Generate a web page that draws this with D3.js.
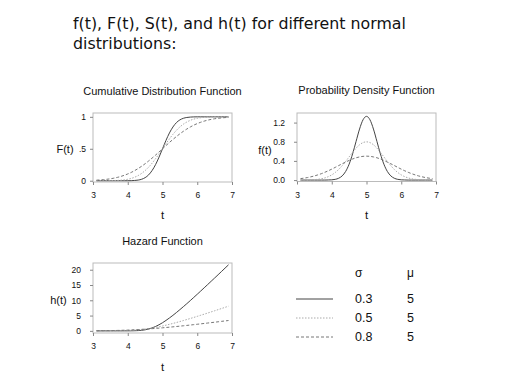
<!DOCTYPE html>
<html lang="en">
<head>
<meta charset="utf-8">
<title>Normal distributions</title>
<script src="https://cdn.jsdelivr.net/npm/d3@7"></script>
<style>
  body {margin: 0; background: white;}
  svg {display: block; background: white;}
  .tick text {font-family: "Liberation Sans", Arial, sans-serif; font-size: 8.5px; fill: #111;}
  .tick line {stroke: #888;}
  .lbl {font-family: "Liberation Sans", Arial, sans-serif; fill: #111;}
</style>
</head>
<body>
<script>
// sample points t = 3.1 .. 6.9 (step 0.1)
var tVals = [3.1,3.2,3.3,3.4,3.5,3.6,3.7,3.8,3.9,4.0,4.1,4.2,4.3,4.4,4.5,4.6,4.7,4.8,4.9,5.0,
             5.1,5.2,5.3,5.4,5.5,5.6,5.7,5.8,5.9,6.0,6.1,6.2,6.3,6.4,6.5,6.6,6.7,6.8,6.9];

var cdf03 = [0,0,0,0,0,0,0,0,0,0,0.001,0.004,0.010,0.023,0.048,0.091,0.159,0.252,0.369,0.5,
             0.631,0.748,0.841,0.909,0.952,0.977,0.990,0.996,0.999,1,1,1,1,1,1,1,1,1,1];
var cdf05 = [0,0,0,0.001,0.001,0.003,0.005,0.008,0.014,0.023,0.036,0.055,0.081,0.115,0.159,0.212,0.274,0.345,0.421,0.5,
             0.579,0.655,0.726,0.788,0.841,0.885,0.919,0.945,0.964,0.977,0.986,0.992,0.995,0.997,0.999,0.999,1,1,1];
var cdf08 = [0.009,0.012,0.017,0.023,0.030,0.040,0.052,0.067,0.085,0.106,0.130,0.159,0.191,0.227,0.266,0.309,0.354,0.401,0.450,0.5,
             0.550,0.599,0.646,0.691,0.734,0.773,0.809,0.841,0.870,0.894,0.915,0.933,0.948,0.960,0.970,0.977,0.983,0.988,0.991];

var pdf03 = [0,0,0,0,0,0,0,0,0.002,0.005,0.015,0.038,0.087,0.180,0.332,0.547,0.807,1.065,1.258,1.330,
             1.258,1.065,0.807,0.547,0.332,0.180,0.087,0.038,0.015,0.005,0.002,0,0,0,0,0,0,0,0];
var pdf05 = [0.001,0.001,0.002,0.005,0.009,0.016,0.027,0.045,0.071,0.108,0.158,0.222,0.300,0.388,0.484,0.579,0.666,0.737,0.782,0.798,
             0.782,0.737,0.666,0.579,0.484,0.388,0.300,0.222,0.158,0.108,0.071,0.045,0.027,0.016,0.009,0.005,0.002,0.001,0.001];
var pdf08 = [0.030,0.040,0.052,0.068,0.086,0.108,0.133,0.162,0.194,0.228,0.265,0.303,0.340,0.376,0.410,0.440,0.465,0.483,0.495,0.499,
             0.495,0.483,0.465,0.440,0.410,0.376,0.340,0.303,0.265,0.228,0.194,0.162,0.133,0.108,0.086,0.068,0.052,0.040,0.030];

var haz03 = [0,0,0,0,0,0,0,0,0.002,0.005,0.015,0.038,0.088,0.184,0.348,0.602,0.959,1.425,1.995,2.66,
             3.41,4.22,5.08,5.99,6.94,7.91,8.89,9.91,10.94,11.98,13.03,14.09,15.15,16.22,17.29,18.36,19.44,20.53,21.61];
var haz05 = [0.001,0.001,0.003,0.005,0.009,0.016,0.027,0.045,0.072,0.111,0.164,0.235,0.326,0.439,0.575,0.735,0.918,1.124,1.350,1.596,
             1.859,2.137,2.430,2.734,3.050,3.375,3.708,4.048,4.395,4.746,5.104,5.462,5.827,6.199,6.566,6.938,7.314,7.691,8.070];
var haz08 = [0.030,0.040,0.053,0.069,0.089,0.112,0.141,0.173,0.212,0.255,0.305,0.360,0.420,0.487,0.559,0.636,0.719,0.807,0.900,0.997,
             1.099,1.204,1.314,1.427,1.542,1.661,1.782,1.906,2.033,2.162,2.291,2.424,2.557,2.693,2.829,2.967,3.109,3.249,3.387];

var sigmas = ["0.3", "0.5", "0.8"];
var mus = ["5", "5", "5"];
var xTicks = [3, 4, 5, 6, 7];

// line styles per sigma
var styles = [
  {stroke: "#444", dash: null},
  {stroke: "#aaa", dash: "1.5,1.5"},
  {stroke: "#777", dash: "3,2"}
];

var w = 512, h = 384;
var svg = d3.select("body").append("svg")
    .attr("width", w)
    .attr("height", h);

// main title
var title = svg.append("text")
    .attr("class", "lbl")
    .style("font-family", "'DejaVu Sans', Verdana, sans-serif")
    .style("font-size", "15.8px")
    .attr("x", 73);
title.append("tspan").attr("x", 73).attr("y", 29).text("f(t), F(t), S(t), and h(t) for different normal");
title.append("tspan").attr("x", 73).attr("y", 48.5).text("distributions:");

function panel(cfg) {
  var x = d3.scaleLinear().domain([3, 7]).range([cfg.x0, cfg.x1]);
  var y = d3.scaleLinear().domain(cfg.yDomain).range([cfg.y1, cfg.y0]);
  var g = svg.append("g");

  g.append("rect")
      .attr("x", x(3))
      .attr("y", cfg.y0)
      .attr("width", x(7) - x(3))
      .attr("height", cfg.y1 - cfg.y0)
      .attr("fill", "none")
      .attr("stroke", "#bbb");

  var xa = g.append("g")
      .attr("transform", "translate(0," + cfg.y1 + ")")
      .call(d3.axisBottom(x).tickValues(xTicks).tickFormat(d3.format("d")).tickSize(3).tickSizeOuter(0).tickPadding(7));
  xa.select(".domain").remove();

  var ya = g.append("g")
      .attr("transform", "translate(" + x(3) + ",0)")
      .call(d3.axisLeft(y).tickValues(cfg.yTicks).tickFormat(function(d, i) { return cfg.yLabels[i]; })
        .tickSize(3).tickSizeOuter(0).tickPadding(cfg.yPad));
  ya.select(".domain").remove();

  var line = d3.line()
      .x(function(d, i) { return x(tVals[i]); })
      .y(function(d) { return y(d); })
      .curve(d3.curveMonotoneX);

  cfg.series.forEach(function(s, k) {
    g.append("path")
        .datum(s)
        .attr("d", line)
        .attr("fill", "none")
        .attr("stroke", styles[k].stroke)
        .attr("stroke-width", 1)
        .attr("stroke-dasharray", styles[k].dash);
  });

  g.append("text").attr("class", "lbl")
      .attr("x", (x(3) + x(7)) / 2).attr("y", cfg.titleY)
      .attr("text-anchor", "middle").attr("dominant-baseline", "central")
      .style("font-size", "11px")
      .text(cfg.title);

  g.append("text").attr("class", "lbl")
      .attr("x", cfg.yLabX).attr("y", cfg.yLabY)
      .attr("text-anchor", "middle").attr("dominant-baseline", "central")
      .style("font-size", "11px")
      .text(cfg.yLab);

  g.append("text").attr("class", "lbl")
      .attr("x", (x(3) + x(7)) / 2).attr("y", cfg.tY)
      .attr("text-anchor", "middle").attr("dominant-baseline", "central")
      .style("font-size", "11.5px")
      .text("t");
}

panel({
  x0: 93, x1: 232, y0: 113, y1: 182, yDomain: [-0.02, 1.06],
  yTicks: [0, 0.5, 1], yLabels: ["0", ".5", "1"], yPad: 4,
  series: [cdf03, cdf05, cdf08],
  title: "Cumulative Distribution Function", titleY: 90.5,
  yLab: "F(t)", yLabX: 65, yLabY: 149, tY: 215
});

panel({
  x0: 297, x1: 436, y0: 113, y1: 181.5, yDomain: [-0.03, 1.4],
  yTicks: [0, 0.4, 0.8, 1.2], yLabels: ["0.0", "0.4", "0.8", "1.2"], yPad: 9,
  series: [pdf03, pdf05, pdf08],
  title: "Probability Density Function", titleY: 90,
  yLab: "f(t)", yLabX: 265, yLabY: 150, tY: 215
});

panel({
  x0: 93, x1: 232, y0: 263, y1: 333, yDomain: [-0.7, 22.2],
  yTicks: [0, 5, 10, 15, 20], yLabels: ["0", "5", "10", "15", "20"], yPad: 9,
  series: [haz03, haz05, haz08],
  title: "Hazard Function", titleY: 241,
  yLab: "h(t)", yLabX: 58.5, yLabY: 300, tY: 367
});

// legend
var legY = d3.scalePoint().domain(sigmas).range([299, 337]);
var leg = svg.append("g");
leg.append("text").attr("class", "lbl").attr("x", 355).attr("y", 273)
    .attr("dominant-baseline", "central").style("font-size", "12px").text("\u03c3");
leg.append("text").attr("class", "lbl").attr("x", 407).attr("y", 273)
    .attr("dominant-baseline", "central").style("font-size", "12px").text("\u03bc");

sigmas.forEach(function(s, k) {
  var yy = legY(s);
  leg.append("line")
      .attr("x1", 296).attr("x2", 333).attr("y1", yy).attr("y2", yy)
      .attr("stroke", styles[k].stroke)
      .attr("stroke-dasharray", styles[k].dash);
  leg.append("text").attr("class", "lbl").attr("x", 355).attr("y", yy)
      .attr("dominant-baseline", "central").style("font-size", "12.5px").text(s);
  leg.append("text").attr("class", "lbl").attr("x", 407).attr("y", yy)
      .attr("dominant-baseline", "central").style("font-size", "12.5px").text(mus[k]);
});
</script>
</body>
</html>
